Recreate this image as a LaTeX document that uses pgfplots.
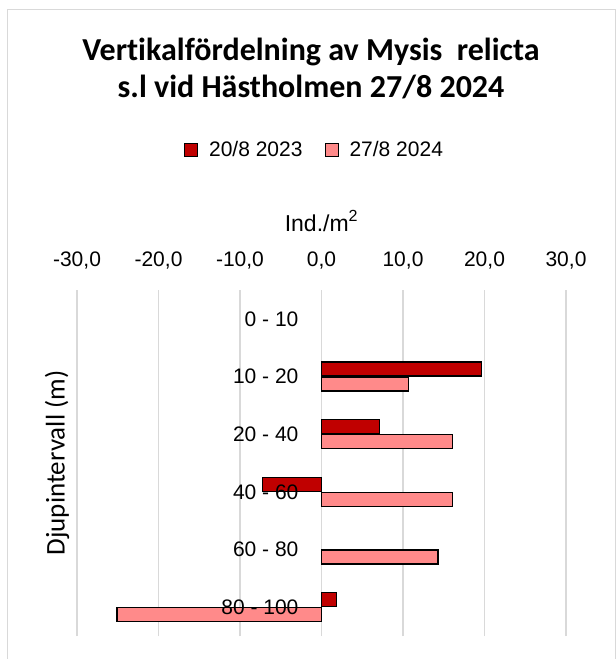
\documentclass[border=0pt]{standalone}
\usepackage{fontspec}
\setmainfont{Liberation Sans}
\newfontfamily\calibri[Ligatures=NoCommon]{Carlito}
\usepackage{pgfplots}
\pgfplotsset{compat=1.18}
\definecolor{darkred}{HTML}{C00000}
\definecolor{lightred}{HTML}{FF8A8A}
\definecolor{gridgray}{HTML}{D9D9D9}
\pgfplotsset{
  layers/labelsontop/.define layer set={axis background,axis grid,axis ticks,axis lines,main,axis tick labels,axis descriptions,axis foreground}{/pgfplots/layers/standard},
  sqlegend/.style={legend image code/.code={\draw[##1,/tikz/.cd,line width=0.8pt] (0pt,-6.5pt) rectangle (13pt,6.5pt); \path (22pt,0pt);}}
}
\begin{document}
\begin{tikzpicture}
\path (0,0) rectangle (616pt,-659pt);
\draw[gridgray, line width=1pt] (7pt,-658.5pt) -- (7pt,-9pt) -- (615pt,-9pt) -- (615pt,-658.5pt);
\node[anchor=base, inner sep=0pt, font=\calibri\bfseries\fontsize{32}{36}\selectfont] at (311pt,-60pt) {Vertikalfördelning av Mysis\ \ relicta};
\node[anchor=base, inner sep=0pt, font=\calibri\bfseries\fontsize{32}{36}\selectfont] at (311pt,-97pt) {s.l vid Hästholmen 27/8 2024};
\begin{axis}[
  set layers=labelsontop,
  at={(77pt,-636pt)}, anchor=south west,
  scale only axis, width=489pt, height=346pt,
  xbar, bar width=14pt,
  xmin=-30, xmax=30, ymin=-0.5, ymax=5.5,
  xtick={-30,-20,-10,0,10,20,30},
  xticklabels={{-30,0},{-20,0},{-10,0},{0,0},{10,0},{20,0},{30,0}},
  xticklabel pos=upper,
  xticklabel style={anchor=base, yshift=24pt, inner sep=0pt},
  ytick={0,1,2,3,4,5},
  yticklabels={80 - 100,60 - 80,40 - 60,20 - 40,10 - 20,0 - 10},
  yticklabel style={anchor=east, inner sep=0pt, xshift=221.6pt},
  major tick length=0pt,
  tick style={draw=none},
  axis line style={draw=none},
  xmajorgrids,
  grid style={draw=gridgray, line width=1.2pt},
  major grid style={draw=gridgray, line width=1.2pt},
  tick label style={font=\fontsize{21}{25}\selectfont},
  xlabel={Ind./m\textsuperscript{2}},
  xlabel style={at={(axis description cs:0.5,1.1705)}, anchor=base, inner sep=0pt, font=\fontsize{23}{27}\selectfont},
  ylabel={Djupintervall (m)},
  ylabel style={at={(axis description cs:-0.0409,0.5)}, anchor=center, inner sep=0pt, font=\calibri\fontsize{27}{30}\selectfont},
  legend style={at={(0.4857,1.405)}, anchor=center, draw=none, fill=none, legend columns=2,
    font=\fontsize{21}{25}\selectfont, /tikz/every even column/.append style={column sep=20pt}},
]
\addplot[fill=darkred, draw=black, line width=1.3pt, bar shift=7.5pt, sqlegend]
  coordinates {(19.6,4) (7.1,3) (-7.2,2) (1.8,0)};
\addlegendentry{20/8 2023}
\addplot[fill=lightred, draw=black, line width=1.3pt, bar shift=-7.5pt, sqlegend]
  coordinates {(10.7,4) (16.1,3) (16.1,2) (14.3,1) (-25.1,0)};
\addlegendentry{27/8 2024}
\end{axis}
\end{tikzpicture}
\end{document}
